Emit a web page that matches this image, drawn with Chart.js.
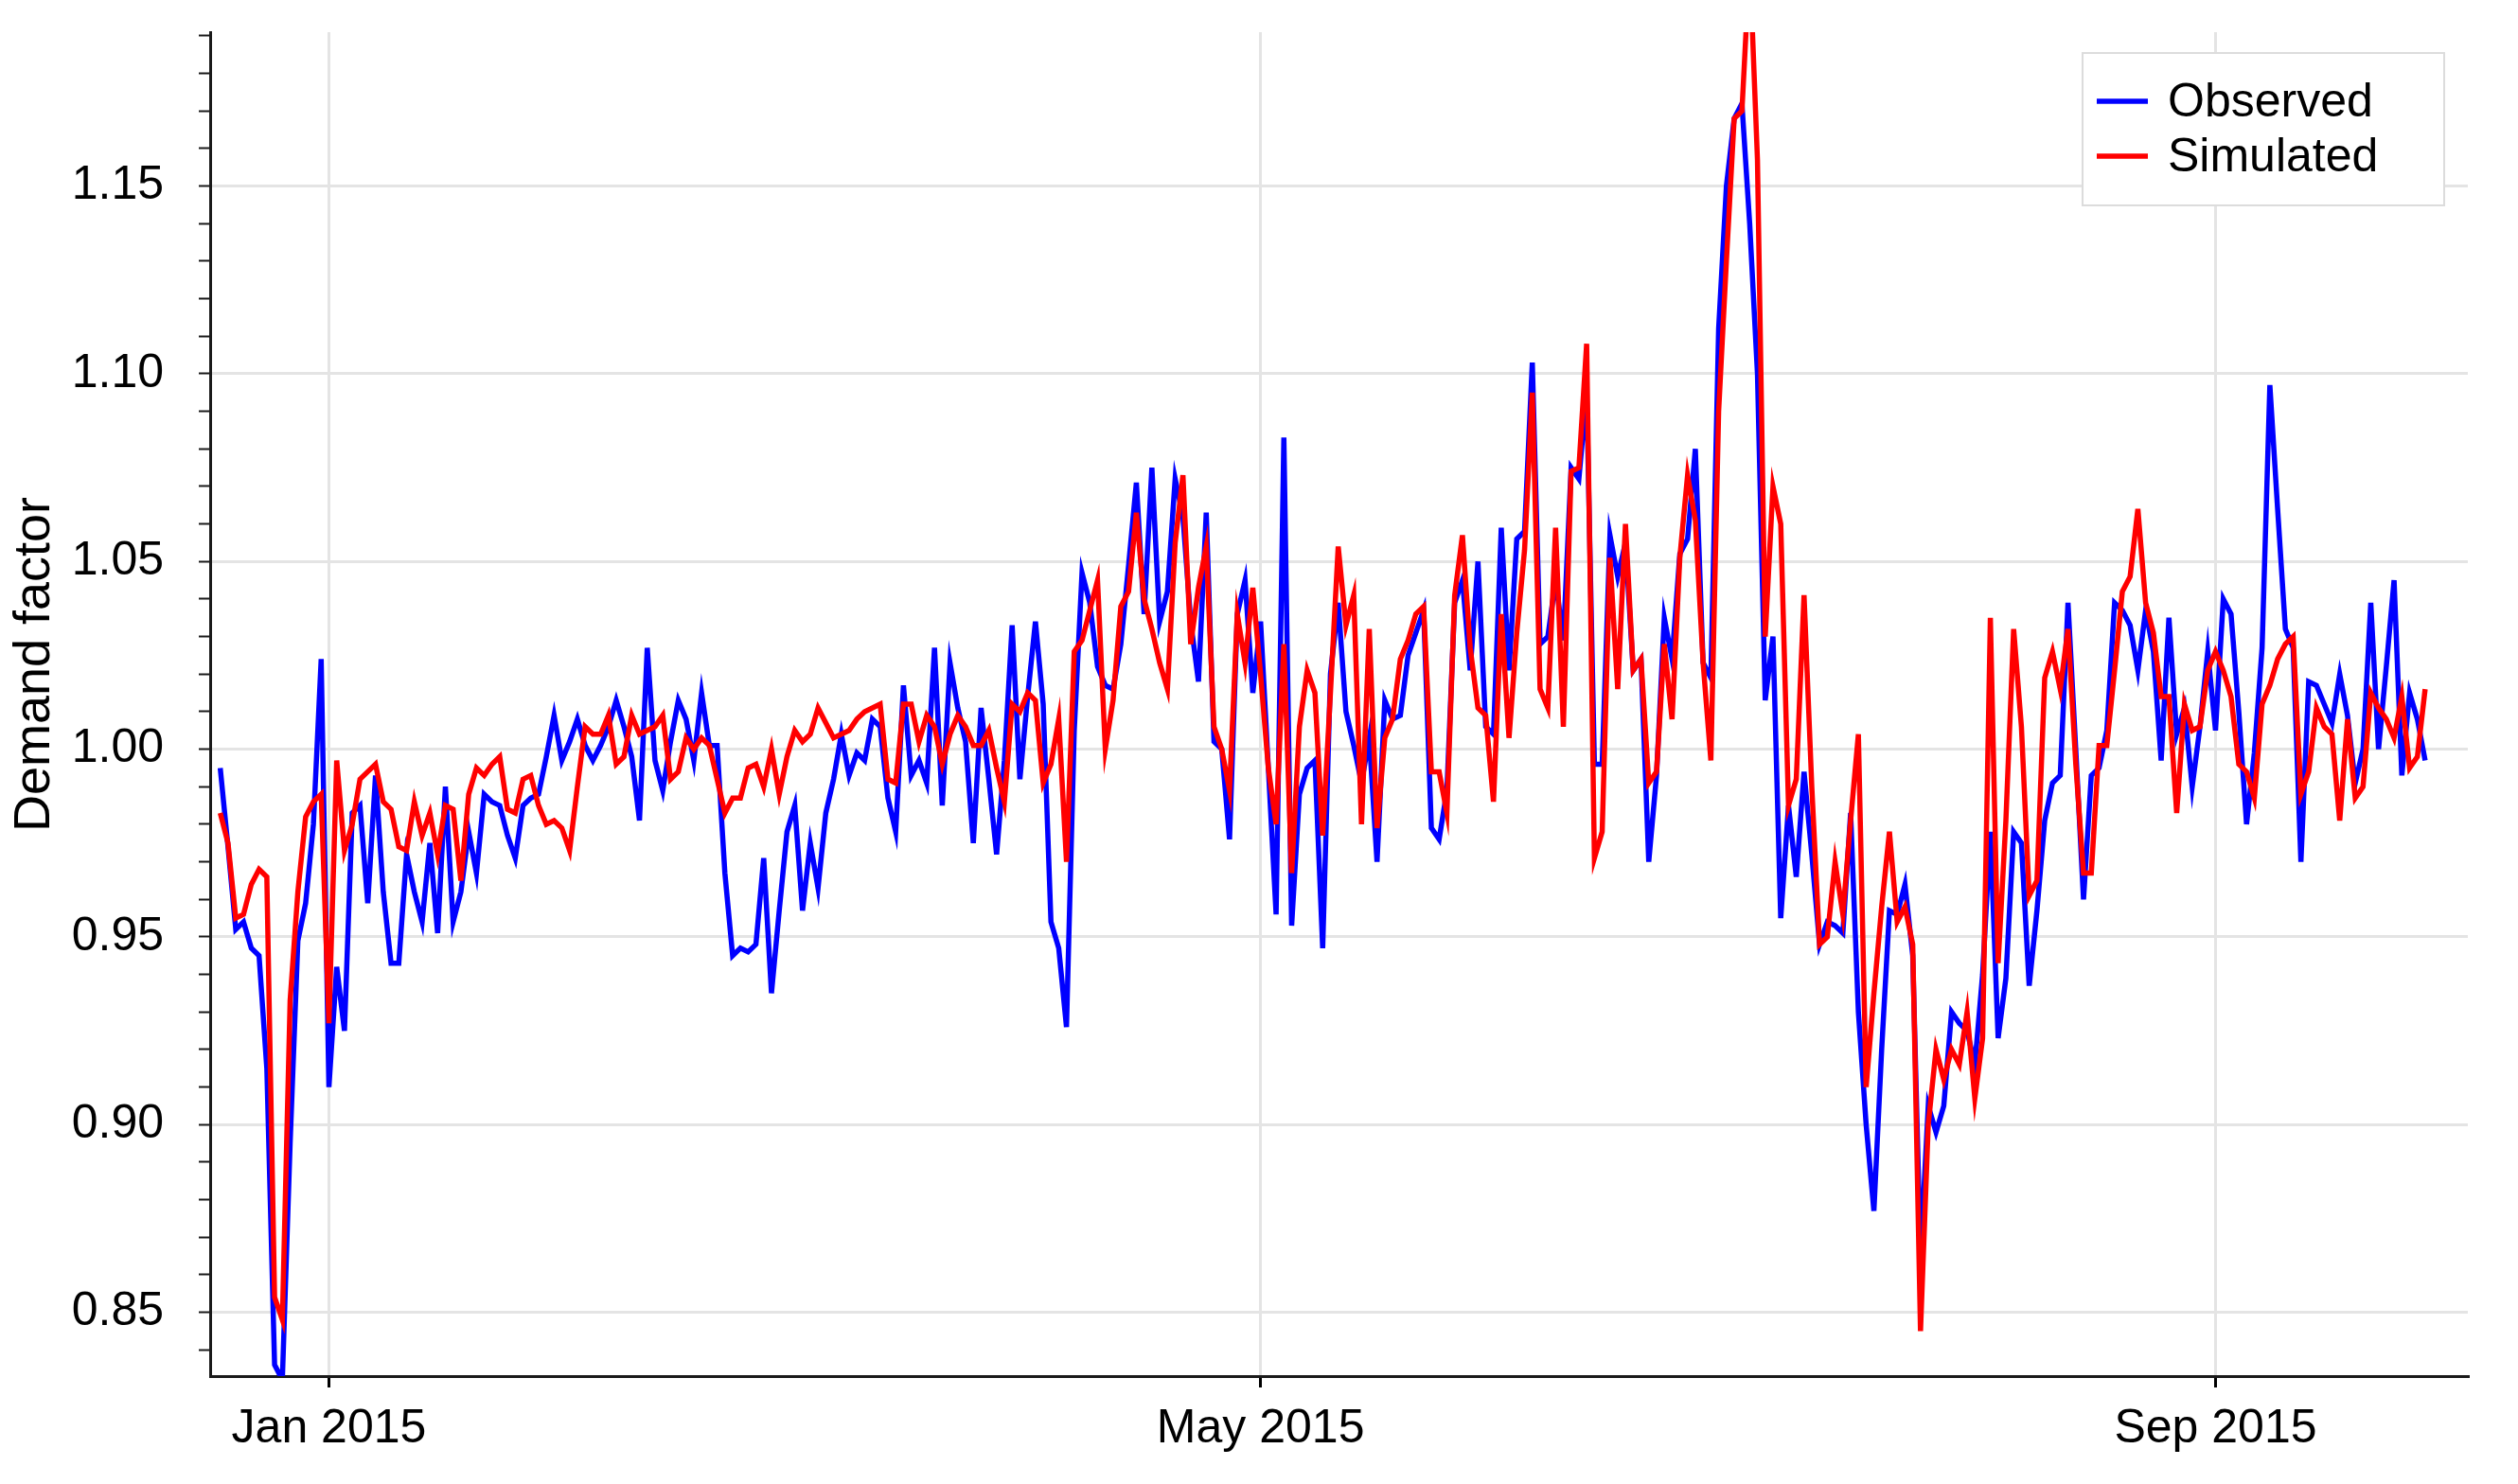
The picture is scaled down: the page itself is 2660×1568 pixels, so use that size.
<!DOCTYPE html>
<html>
<head>
<meta charset="utf-8">
<script src="https://cdn.jsdelivr.net/npm/chart.js@4.4.0/dist/chart.umd.min.js"></script>
<style>
  html, body { margin: 0; padding: 0; background: #ffffff; }
  #wrap { width: 2660px; height: 1568px; position: relative; }
</style>
</head>
<body>
<div id="wrap"><canvas id="c" width="2660" height="1568"></canvas></div>
<script>
// ---- data (daily, first value = 18 Dec 2014, day offsets relative to 1 Jan 2015) ----
const startDay = -14;
const seriesNames = ['Observed', 'Simulated'];
const observed = [
  0.995,0.974,0.952,0.954,0.947,0.945,0.915,0.836,0.832,0.895,
  0.949,0.959,0.980,1.024,0.910,0.942,0.925,0.983,0.985,0.959,
  0.993,0.962,0.943,0.943,0.972,0.962,0.954,0.975,0.951,0.990,
  0.954,0.962,0.978,0.967,0.988,0.986,0.985,0.977,0.971,0.985,
  0.987,0.988,0.998,1.009,0.997,1.002,1.008,1.001,0.997,1.001,
  1.006,1.013,1.006,0.998,0.981,1.027,0.997,0.989,1.002,1.013,
  1.008,0.997,1.015,1.001,1.001,0.967,0.945,0.947,0.946,0.948,
  0.971,0.935,0.957,0.978,0.985,0.957,0.975,0.963,0.983,0.992,
  1.004,0.993,0.999,0.997,1.008,1.006,0.987,0.978,1.017,0.993,
  0.997,0.991,1.027,0.985,1.023,1.011,1.002,0.975,1.011,0.992,
  0.972,0.997,1.033,0.992,1.014,1.034,1.012,0.954,0.947,0.926,
  1.005,1.047,1.039,1.022,1.017,1.016,1.028,1.049,1.071,1.036,
  1.075,1.034,1.042,1.072,1.062,1.034,1.018,1.063,1.002,1.000,
  0.976,1.036,1.045,1.015,1.034,0.995,0.956,1.083,0.953,0.988,
  0.995,0.997,0.947,1.020,1.039,1.010,1.001,0.991,1.003,0.970,
  1.013,1.008,1.009,1.025,1.031,1.037,0.979,0.976,0.989,1.039,
  1.045,1.021,1.050,1.006,1.004,1.059,1.021,1.056,1.058,1.103,
  1.028,1.030,1.045,1.029,1.075,1.072,1.095,0.996,0.996,1.057,
  1.046,1.055,1.021,1.024,0.970,0.993,1.035,1.024,1.052,1.056,
  1.080,1.023,1.019,1.112,1.150,1.168,1.172,1.140,1.100,1.013,
  1.030,0.955,0.985,0.966,0.994,0.972,0.948,0.954,0.953,0.951,
  0.983,0.930,0.900,0.877,0.920,0.957,0.956,0.964,0.945,0.865,
  0.905,0.898,0.905,0.930,0.927,0.925,0.916,0.940,0.978,0.923,
  0.939,0.978,0.975,0.937,0.957,0.981,0.991,0.993,1.039,1.000,
  0.960,0.993,0.995,1.005,1.039,1.037,1.033,1.021,1.037,1.026,
  0.997,1.035,1.004,1.011,0.990,1.006,1.026,1.005,1.040,1.036,
  1.010,0.980,0.999,1.027,1.097,1.064,1.032,1.027,0.970,1.018,
  1.017,1.012,1.007,1.020,1.009,0.991,1.000,1.039,1.000,1.022,
  1.045,0.993,1.015,1.008,0.997
];
const simulated = [
  0.983,0.975,0.955,0.956,0.964,0.968,0.966,0.854,0.848,0.933,
  0.962,0.982,0.986,0.988,0.927,0.997,0.973,0.980,0.992,0.994,
  0.996,0.986,0.984,0.974,0.973,0.986,0.977,0.983,0.972,0.985,
  0.984,0.965,0.988,0.995,0.993,0.996,0.998,0.984,0.983,0.992,
  0.993,0.985,0.980,0.981,0.979,0.973,0.990,1.006,1.004,1.004,
  1.009,0.996,0.998,1.009,1.004,1.005,1.006,1.009,0.992,0.994,
  1.003,1.000,1.003,1.001,0.992,0.983,0.987,0.987,0.995,0.996,
  0.990,1.000,0.988,0.998,1.005,1.002,1.004,1.011,1.007,1.003,
  1.004,1.005,1.008,1.010,1.011,1.012,0.992,0.991,1.012,1.012,
  1.002,1.009,1.006,0.996,1.004,1.009,1.006,1.001,1.001,1.005,
  0.995,0.986,1.012,1.010,1.015,1.013,0.991,0.996,1.008,0.970,
  1.026,1.029,1.037,1.045,1.000,1.013,1.038,1.042,1.063,1.040,
  1.032,1.023,1.016,1.055,1.073,1.028,1.043,1.054,1.006,1.000,
  0.989,1.036,1.023,1.043,1.020,0.995,0.980,1.028,0.967,1.006,
  1.021,1.015,0.977,1.015,1.054,1.033,1.041,0.980,1.032,0.979,
  1.003,1.008,1.024,1.029,1.036,1.038,0.994,0.994,0.983,1.041,
  1.057,1.027,1.011,1.009,0.986,1.036,1.003,1.031,1.053,1.095,
  1.016,1.011,1.059,1.006,1.074,1.075,1.108,0.971,0.978,1.051,
  1.016,1.060,1.021,1.024,0.991,0.994,1.028,1.008,1.051,1.073,
  1.061,1.023,0.997,1.090,1.130,1.168,1.170,1.210,1.157,1.030,
  1.070,1.060,0.985,0.992,1.041,0.990,0.948,0.950,0.970,0.956,
  0.981,1.004,0.910,0.935,0.958,0.978,0.954,0.958,0.948,0.845,
  0.900,0.920,0.912,0.920,0.916,0.930,0.907,0.923,1.035,0.943,
  0.981,1.032,1.006,0.961,0.965,1.019,1.026,1.016,1.032,0.996,
  0.967,0.967,1.001,1.001,1.021,1.042,1.046,1.064,1.039,1.031,
  1.014,1.014,0.983,1.012,1.005,1.006,1.021,1.026,1.021,1.014,
  0.996,0.994,0.987,1.012,1.017,1.024,1.028,1.030,0.988,0.994,
  1.011,1.006,1.004,0.981,1.008,0.987,0.990,1.015,1.011,1.008,
  1.003,1.014,0.995,0.998,1.016
];
const xTickDays = [0, 120, 243];
const xTickLabels = ['Jan 2015', 'May 2015', 'Sep 2015'];
const yMajorTicks = [0.85, 0.90, 0.95, 1.00, 1.05, 1.10, 1.15];
const yTitle = 'Demand factor';

// ---- styling ----
const FONT = '"Liberation Sans", Arial, sans-serif';
const FS = 50;
const colors = ['#0000ff', '#ff0000'];
const gridColor = '#e4e4e4';
const LW = 5.5;

const toPoints = arr => arr.map((v, i) => ({ x: startDay + i, y: v }));
const isMajor = v => yMajorTicks.some(t => Math.abs(t - v) < 1e-6);

const overlay = {
  id: 'overlay',
  afterDraw(chart) {
    const ctx = chart.ctx;
    const ca = chart.chartArea;
    // y axis title
    ctx.save();
    ctx.font = '54px ' + FONT;
    ctx.fillStyle = '#000';
    ctx.translate(37, 702);
    ctx.rotate(-Math.PI / 2);
    ctx.textAlign = 'center';
    ctx.textBaseline = 'middle';
    ctx.fillText(yTitle, 0, 0);
    ctx.restore();
    // legend box
    const bx = ca.right - 407, by = ca.top + 22, bw = 382, bh = 161;
    ctx.save();
    ctx.fillStyle = '#ffffff';
    ctx.fillRect(bx, by, bw, bh);
    ctx.strokeStyle = '#dcdcdc';
    ctx.lineWidth = 2;
    ctx.strokeRect(bx, by, bw, bh);
    ctx.font = FS + 'px ' + FONT;
    ctx.textAlign = 'left';
    ctx.textBaseline = 'middle';
    chart.data.datasets.forEach((ds, i) => {
      const y = by + 51 + i * 58;
      ctx.strokeStyle = ds.borderColor;
      ctx.lineWidth = LW;
      ctx.beginPath();
      ctx.moveTo(bx + 15, y);
      ctx.lineTo(bx + 69, y);
      ctx.stroke();
      ctx.fillStyle = '#000';
      ctx.fillText(ds.label, bx + 90, y + 2);
    });
    ctx.restore();
  }
};

new Chart(document.getElementById('c'), {
  type: 'line',
  data: {
    datasets: [
      { label: seriesNames[0], data: toPoints(observed), borderColor: colors[0], backgroundColor: colors[0],
        borderWidth: LW, pointRadius: 0, tension: 0, fill: false, order: 2 },
      { label: seriesNames[1], data: toPoints(simulated), borderColor: colors[1], backgroundColor: colors[1],
        borderWidth: LW, pointRadius: 0, tension: 0, fill: false, order: 1 }
    ]
  },
  options: {
    responsive: false,
    animation: false,
    devicePixelRatio: 1,
    layout: { padding: { top: 34, right: 53, left: 0, bottom: 0 } },
    plugins: { legend: { display: false }, tooltip: { enabled: false }, title: { display: false } },
    scales: {
      x: {
        type: 'linear',
        min: -15.3,
        max: 275.5,
        afterBuildTicks: s => { s.ticks = xTickDays.map(v => ({ value: v })); },
        afterFit: s => { s.height = 114; s.paddingLeft = 0; s.paddingRight = 0; },
        ticks: {
          autoSkip: false, maxRotation: 0, minRotation: 0,
          color: '#000', font: { family: FONT, size: FS }, padding: 14,
          callback: v => { const i = xTickDays.indexOf(v); return i >= 0 ? xTickLabels[i] : ''; }
        },
        grid: { color: gridColor, lineWidth: 3, drawTicks: true, tickLength: 12, tickColor: '#000', tickWidth: 3 },
        border: { display: true, color: '#1a1a1a', width: 3 }
      },
      y: {
        type: 'linear',
        min: 0.833,
        max: 1.191,
        afterBuildTicks: s => {
          const t = [];
          for (let k = 84; k <= 119; k++) t.push({ value: k / 100 });
          s.ticks = t;
        },
        afterFit: s => { s.width = 222; s.paddingTop = 0; s.paddingBottom = 0; },
        ticks: {
          autoSkip: false, color: '#000', font: { family: FONT, size: FS }, padding: 37,
          callback: v => isMajor(v) ? v.toFixed(2) : ''
        },
        grid: {
          color: c => (c.tick && isMajor(c.tick.value)) ? gridColor : 'rgba(0,0,0,0)',
          lineWidth: 3, drawTicks: true, tickLength: 12, tickColor: '#1a1a1a', tickWidth: 2
        },
        border: { display: true, color: '#1a1a1a', width: 3 }
      }
    }
  },
  plugins: [overlay]
});
</script>
</body>
</html>
